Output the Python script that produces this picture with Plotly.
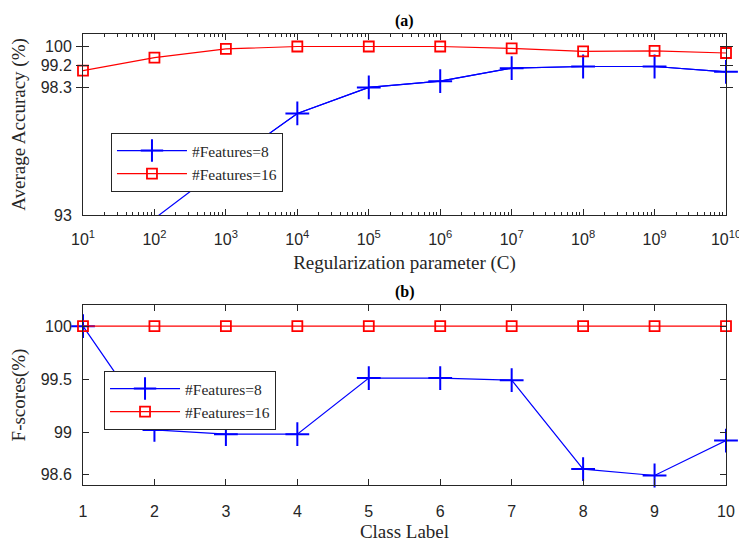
import math
import plotly.graph_objects as go
from plotly.subplots import make_subplots

# Top panel data
C_values = [1e1, 1e2, 1e3, 1e4, 1e5, 1e6, 1e7, 1e8, 1e9, 1e10]
acc_f8 = [88.0, 92.85, 95.1, 97.22, 98.3, 98.56, 99.1, 99.17, 99.17, 98.95]
acc_f16 = [99.0, 99.54, 99.9, 100.0, 100.0, 100.0, 99.92, 99.8, 99.82, 99.73]
top_xtick_vals = [1e1, 1e2, 1e3, 1e4, 1e5, 1e6, 1e7, 1e8, 1e9, 1e10]
top_xtick_text = ["10<sup>%d</sup>" % i for i in range(1, 11)]
top_ytick_vals = [93, 98.3, 99.2, 100]
top_yrange = [93, 100.52]

# Bottom panel data
class_labels = [1, 2, 3, 4, 5, 6, 7, 8, 9, 10]
fs_f8 = [100.0, 99.02, 98.98, 98.98, 99.51, 99.51, 99.49, 98.65, 98.59, 98.92]
fs_f16 = [100, 100, 100, 100, 100, 100, 100, 100, 100, 100]
bottom_ytick_vals = [98.6, 99, 99.5, 100]

BLUE = "#0000ff"
RED = "#ff0000"
SERIF = "Liberation Serif, Times New Roman, serif"
SANS = "Liberation Sans, Arial, sans-serif"
INK = "#262626"

cross = dict(symbol="cross-thin-open", size=17, line=dict(color=BLUE, width=2))
square = dict(symbol="square-open", size=10, line=dict(color=RED, width=1.8))

fig = make_subplots(rows=2, cols=1)

# blue line through all points (clipped), markers only where the point lies inside the axes
fig.add_trace(go.Scatter(x=C_values, y=acc_f8, mode="lines", showlegend=False,
                         line=dict(color=BLUE, width=1.2), hoverinfo="skip"), row=1, col=1)
in_range = [(c, v) for c, v in zip(C_values, acc_f8) if v >= top_yrange[0]]
fig.add_trace(go.Scatter(x=[c for c, _ in in_range], y=[v for _, v in in_range], mode="lines+markers",
                         name="#Features=8", line=dict(color=BLUE, width=1.2), marker=cross,
                         cliponaxis=False, legend="legend"), row=1, col=1)
fig.add_trace(go.Scatter(x=C_values, y=acc_f16, mode="lines+markers", name="#Features=16",
                         line=dict(color=RED, width=1.2), marker=square,
                         cliponaxis=False, legend="legend"), row=1, col=1)
fig.add_trace(go.Scatter(x=class_labels, y=fs_f8, mode="lines+markers", name="#Features=8",
                         line=dict(color=BLUE, width=1.2), marker=cross,
                         cliponaxis=False, legend="legend2"), row=2, col=1)
fig.add_trace(go.Scatter(x=class_labels, y=fs_f16, mode="lines+markers", name="#Features=16",
                         line=dict(color=RED, width=1.2), marker=square,
                         cliponaxis=False, legend="legend2"), row=2, col=1)
# empty trace so the minor-tick overlay axis gets drawn
fig.add_trace(go.Scatter(x=[], y=[], xaxis="x3", yaxis="y", showlegend=False, hoverinfo="skip"))

axis_common = dict(showline=True, linecolor=INK, linewidth=1, mirror="allticks", automargin=False,
                   ticks="inside", ticklen=6, tickcolor=INK, showgrid=False, zeroline=False,
                   ticklabeloverflow="allow",
                   tickfont=dict(family=SANS, size=16, color=INK))
title_font = dict(family=SERIF, size=19, color=INK)
minor_vals = [k * 10 ** e for e in range(1, 10) for k in range(2, 10)]
xlog_range = [math.log10(top_xtick_vals[0]), math.log10(top_xtick_vals[-1])]

fig.update_xaxes(type="log", range=xlog_range, tickvals=top_xtick_vals, ticktext=top_xtick_text,
                 ticklabelstandoff=10,
                 title=dict(text="Regularization parameter (C)", font=title_font, standoff=8),
                 domain=[0, 1], **axis_common, row=1, col=1)
fig.update_yaxes(range=top_yrange, tickvals=top_ytick_vals, ticktext=["93", "98.3", "99.2", "100"],
                 ticklabelstandoff=7,
                 title=dict(text="Average Accuracy (%)", font=title_font, standoff=10),
                 domain=[0.5987, 1], **axis_common, row=1, col=1)
fig.update_xaxes(range=[1, 10], tickvals=class_labels, ticklabelstandoff=12,
                 title=dict(text="Class Label", font=title_font, standoff=5),
                 domain=[0, 1], **axis_common, row=2, col=1)
fig.update_yaxes(range=[98.5, 100.2], tickvals=bottom_ytick_vals, ticktext=["98.6", "99", "99.5", "100"],
                 ticklabelstandoff=7,
                 title=dict(text="F-scores(%)", font=title_font, standoff=10),
                 domain=[0, 0.3991], **axis_common, row=2, col=1)

legend_common = dict(bgcolor="white", bordercolor=INK, borderwidth=1,
                     font=dict(family=SERIF, size=15.5, color=INK),
                     xanchor="left", yanchor="top", itemwidth=70, tracegroupgap=0)
fig.update_layout(
    width=739, height=542,
    margin=dict(l=83, r=13, t=34, b=57),
    paper_bgcolor="white", plot_bgcolor="white",
    xaxis3=dict(type="log", range=xlog_range, overlaying="x", anchor="y", side="bottom",
                tickvals=minor_vals, showticklabels=False, ticks="inside", ticklen=3,
                tickcolor=INK, showline=True, linecolor=INK, linewidth=1, mirror="allticks",
                showgrid=False, zeroline=False, automargin=False),
    legend=dict(x=0.0435, y=0.7805, **legend_common),
    legend2=dict(x=0.0327, y=0.2528, **legend_common),
    annotations=[
        dict(text="<b>(a)</b>", x=0.5, y=1.0, xref="paper", yref="paper", xanchor="center", yanchor="bottom",
             showarrow=False, yshift=2, font=dict(family=SERIF, size=16, color="black")),
        dict(text="<b>(b)</b>", x=0.5, y=0.3991, xref="paper", yref="paper", xanchor="center", yanchor="bottom",
             showarrow=False, yshift=2, font=dict(family=SERIF, size=16, color="black")),
    ],
)

fig.write_html("out.html", config={"displayModeBar": False},
               post_script="document.body.style.margin='0';document.body.style.overflow='hidden';")
